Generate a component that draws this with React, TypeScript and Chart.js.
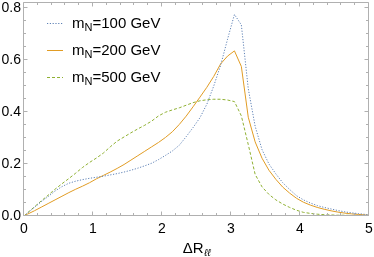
import React, { useEffect, useRef } from 'react';
import { Chart, registerables } from 'chart.js';

Chart.register(...registerables);

const deltaR = [
  0, 0.05, 0.15, 0.25, 0.35, 0.45, 0.55, 0.65, 0.75, 0.85, 0.95,
  1.05, 1.15, 1.25, 1.35, 1.45, 1.55, 1.65, 1.75, 1.85, 1.95,
  2.05, 2.15, 2.25, 2.35, 2.45, 2.55, 2.65, 2.75, 2.85, 2.95,
  3.05, 3.15, 3.25, 3.35, 3.45, 3.55, 3.65, 3.75, 3.85, 3.95,
  4.05, 4.15, 4.25, 4.35, 4.45, 4.55, 4.65, 4.75, 4.85, 4.95, 5.0,
];

const mN100 = [
  0, 0.011, 0.033, 0.055, 0.075, 0.096, 0.113, 0.126, 0.134, 0.140, 0.145,
  0.149, 0.153, 0.158, 0.163, 0.169, 0.176, 0.184, 0.193, 0.203, 0.217,
  0.233, 0.250, 0.272, 0.305, 0.340, 0.378, 0.430, 0.500, 0.580, 0.680,
  0.775, 0.735, 0.490, 0.345, 0.255, 0.200, 0.162, 0.128, 0.102, 0.078,
  0.062, 0.050, 0.040, 0.033, 0.027, 0.021, 0.016, 0.012, 0.009, 0.006, 0.004,
];

const mN200 = [
  0, 0.007, 0.020, 0.034, 0.048, 0.062, 0.076, 0.090, 0.103, 0.115, 0.128,
  0.143, 0.156, 0.169, 0.183, 0.198, 0.215, 0.232, 0.249, 0.266, 0.283,
  0.302, 0.324, 0.352, 0.384, 0.420, 0.457, 0.495, 0.537, 0.585, 0.615,
  0.635, 0.575, 0.380, 0.285, 0.222, 0.176, 0.141, 0.111, 0.088, 0.068,
  0.053, 0.042, 0.033, 0.026, 0.020, 0.015, 0.011, 0.008, 0.006, 0.004, 0.003,
];

const mN500 = [
  0, 0.012, 0.035, 0.058, 0.080, 0.103, 0.124, 0.144, 0.165, 0.187, 0.206,
  0.223, 0.242, 0.266, 0.288, 0.304, 0.320, 0.335, 0.349, 0.365, 0.385,
  0.399, 0.408, 0.416, 0.426, 0.436, 0.443, 0.447, 0.449, 0.449, 0.446,
  0.440, 0.385, 0.275, 0.160, 0.112, 0.083, 0.062, 0.046, 0.033, 0.022,
  0.014, 0.010, 0.007, 0.005, 0.004, 0.003, 0.003, 0.002, 0.002, 0.002, 0.002,
];

const xTickLabels = ['0', '1', '2', '3', '4', '5'];
const yTickLabels = ['0.0', '0.2', '0.4', '0.6', '0.8'];
const seriesMasses = ['100', '200', '500'];

const COLORS = ['#5E81B5', '#E19C24', '#8FB032'];
const DASHES: number[][] = [[1.2, 1.6], [], [3, 2]];
const FONT = '"Liberation Sans", Arial, sans-serif';
const FRAME = '#b0b0b0';

const framePlugin = {
  id: 'mmaFrame',
  afterDraw(chart: any) {
    const { ctx, chartArea: a, scales } = chart;
    const xs = scales.x;
    const ys = scales.y;
    ctx.save();
    ctx.strokeStyle = FRAME;
    ctx.lineWidth = 1;
    const L = Math.round(a.left) - 0.5;
    const R = Math.round(a.right) - 0.5;
    const T = Math.round(a.top) + 0.5;
    const B = Math.round(a.bottom) - 0.5;
    ctx.beginPath();
    ctx.moveTo(L, T);
    ctx.lineTo(R, T);
    ctx.lineTo(R, B);
    ctx.lineTo(L, B);
    ctx.closePath();
    ctx.stroke();

    // x ticks (major every 1, minor every 0.2)
    ctx.beginPath();
    for (let i = 0; i <= 25; i++) {
      const v = i * 0.2;
      const px = Math.round(xs.getPixelForValue(v)) - 0.5;
      const len = i % 5 === 0 ? 4 : 2.5;
      ctx.moveTo(px, B);
      ctx.lineTo(px, B - len);
      ctx.moveTo(px, T);
      ctx.lineTo(px, T + len);
    }
    // y ticks (major every 0.2, minor every 0.05)
    for (let i = 0; i <= 16; i++) {
      const v = i * 0.05;
      const py = Math.round(ys.getPixelForValue(v)) - 0.5;
      const len = i % 4 === 0 ? 4 : 2.5;
      ctx.moveTo(L, py);
      ctx.lineTo(L + len, py);
      ctx.moveTo(R, py);
      ctx.lineTo(R - len, py);
    }
    ctx.stroke();

    // legend
    const rowY = [23, 50, 77];
    const baseY = [27.5, 54.5, 81.5];
    for (let i = 0; i < seriesMasses.length; i++) {
      ctx.beginPath();
      ctx.strokeStyle = COLORS[i];
      ctx.lineWidth = 1;
      ctx.setLineDash(DASHES[i]);
      ctx.moveTo(47, rowY[i] + 0.5);
      ctx.lineTo(63, rowY[i] + 0.5);
      ctx.stroke();
      ctx.setLineDash([]);
      ctx.fillStyle = '#000';
      ctx.textBaseline = 'alphabetic';
      ctx.textAlign = 'left';
      let x = 72;
      ctx.font = `15px ${FONT}`;
      ctx.fillText('m', x, baseY[i]);
      x += ctx.measureText('m').width;
      ctx.font = `11px ${FONT}`;
      ctx.fillText('N', x, baseY[i] + 3);
      x += ctx.measureText('N').width;
      ctx.font = `15px ${FONT}`;
      ctx.fillText(`=${seriesMasses[i]} GeV`, x, baseY[i]);
    }

    // x-axis title
    ctx.fillStyle = '#000';
    ctx.font = `15px ${FONT}`;
    const main = 'ΔR';
    const sub = 'ℓℓ';
    const mw = ctx.measureText(main).width;
    ctx.font = `italic 10px ${FONT}`;
    const sw = ctx.measureText(sub).width;
    const cx = (a.left + a.right) / 2;
    const start = cx - (mw + sw) / 2;
    ctx.font = `15px ${FONT}`;
    ctx.fillText(main, start, 253);
    ctx.font = `italic 10px ${FONT}`;
    ctx.fillText(sub, start + mw + 0.5, 256);
    ctx.restore();
  },
};

export default function App() {
  const ref = useRef<HTMLCanvasElement | null>(null);

  useEffect(() => {
    document.body.style.margin = '0';
    const canvas = ref.current;
    if (!canvas) return;
    const series = [mN100, mN200, mN500];
    const chart = new Chart(canvas, {
      type: 'line',
      data: {
        datasets: series.map((vals, i) => ({
          label: `mN=${seriesMasses[i]} GeV`,
          data: deltaR.map((x, j) => ({ x, y: vals[j] })),
          borderColor: COLORS[i],
          borderWidth: 1,
          borderDash: DASHES[i],
          pointRadius: 0,
          fill: false,
          tension: 0,
        })),
      },
      options: {
        responsive: false,
        animation: false,
        events: [],
        layout: { padding: { left: 0, right: 5, top: 2, bottom: 0 } },
        plugins: {
          legend: { display: false },
          tooltip: { enabled: false },
          title: { display: false },
        },
        scales: {
          x: {
            type: 'linear',
            min: 0,
            max: 5,
            grid: { display: false, drawTicks: false },
            border: { display: false },
            ticks: {
              stepSize: 1,
              padding: 5,
              color: '#000',
              font: { family: FONT, size: 14 },
              maxRotation: 0,
              callback: (_v: any, idx: number) => xTickLabels[idx],
            },
            afterFit: (s: any) => {
              s.height = 41;
              s.paddingLeft = 0;
              s.paddingRight = 0;
            },
          },
          y: {
            type: 'linear',
            min: 0,
            max: 0.823,
            grid: { display: false, drawTicks: false },
            border: { display: false },
            ticks: {
              stepSize: 0.2,
              includeBounds: false,
              padding: 3,
              color: '#000',
              font: { family: FONT, size: 14 },
              callback: (_v: any, idx: number) => yTickLabels[idx],
            },
            afterFit: (s: any) => {
              s.width = 24;
              s.paddingTop = 0;
              s.paddingBottom = 0;
            },
          },
        },
      },
      plugins: [framePlugin],
    });
    return () => chart.destroy();
  }, []);

  return (
    <div style={{ width: 374, height: 257 }}>
      <canvas ref={ref} width={374} height={257} style={{ display: 'block' }} />
    </div>
  );
}
